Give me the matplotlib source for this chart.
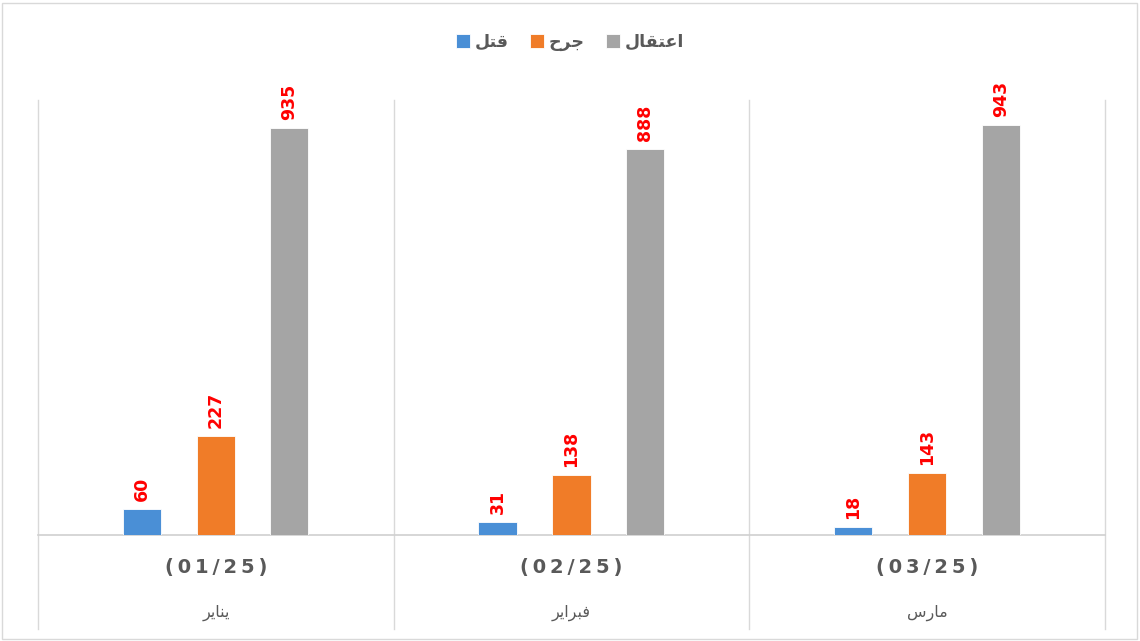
import matplotlib.pyplot as plt
import numpy as np
from matplotlib.patches import Rectangle

# Arabic text given in presentation forms, visual order (matplotlib does no shaping)
series = ["\uFEDE\uFE98\uFED7", "\uFEA1\uFEAE\uFE9F", "\uFEDD\uFE8E\uFED8\uFE98\uFECB\uFE8D"]  # قتل, جرح, اعتقال
periods = ["(01/25)", "(02/25)", "(03/25)"]
months = ["\uFEAE\uFEF3\uFE8E\uFEE8\uFEF3", "\uFEAE\uFEF3\uFE8D\uFEAE\uFE92\uFED3", "\uFEB1\uFEAD\uFE8E\uFEE3"]  # يناير, فبراير, مارس
killed = [60, 31, 18]
wounded = [227, 138, 143]
arrested = [935, 888, 943]

colors = ["#4a8fd6", "#f07c28", "#a5a5a5"]
values = [killed, wounded, arrested]

fig = plt.figure(figsize=(11.4, 6.41), dpi=100)
ax = fig.add_axes([38/1140, 1-535/641, (1105-38)/1140, (535-100)/641])

x = np.arange(len(periods))
w = 0.107
offs = [-0.208, 0, 0.207]
for i in range(3):
    bars = ax.bar(x + offs[i], values[i], w, color=colors[i], label=series[i],
                  edgecolor="white", linewidth=0.6, zorder=3)
    for b, v in zip(bars, values[i]):
        ax.text(b.get_x() + b.get_width()/2, v + 18, str(v), rotation=90,
                ha="center", va="bottom", color="red", fontsize=12.5,
                fontweight="bold")

ax.set_xlim(-0.5, 2.5)
ax.set_ylim(0, 1000)
ax.set_xticks([])
ax.set_yticks([])
for s in ["top", "right", "left"]:
    ax.spines[s].set_visible(False)
ax.spines["bottom"].set_color("#d0d0d0")
ax.spines["bottom"].set_linewidth(1.2)

# group separators running down through the category labels
for xs in [-0.5, 0.5, 1.5, 2.5]:
    ax.plot([xs, xs], [-215, 1000], color="#d9d9d9", lw=1.0, clip_on=False, zorder=1)

for i in range(3):
    spaced = "\u2009".join(periods[i])
    ax.text(x[i], -75, spaced, ha="center", va="center", fontsize=14,
            fontweight="bold", color="#595959")
    ax.text(x[i], -178, months[i], ha="center", va="center", fontsize=11.5,
            color="#595959", family=["DejaVu Sans"])

leg = fig.legend(loc="center", bbox_to_anchor=(0.5, 1-42/641), ncol=3, frameon=False,
                 handlelength=0.8, handleheight=0.8, handletextpad=0.3, columnspacing=1.2,
                 prop={"size": 12.5, "weight": "bold"})
for t in leg.get_texts():
    t.set_color("#595959")

fig.patches.append(Rectangle((2/1140, 2/641), 1-5/1140, 1-5/641, transform=fig.transFigure,
                             fill=False, edgecolor="#d9d9d9", lw=1.0))

fig.savefig("out.png", dpi=100)
